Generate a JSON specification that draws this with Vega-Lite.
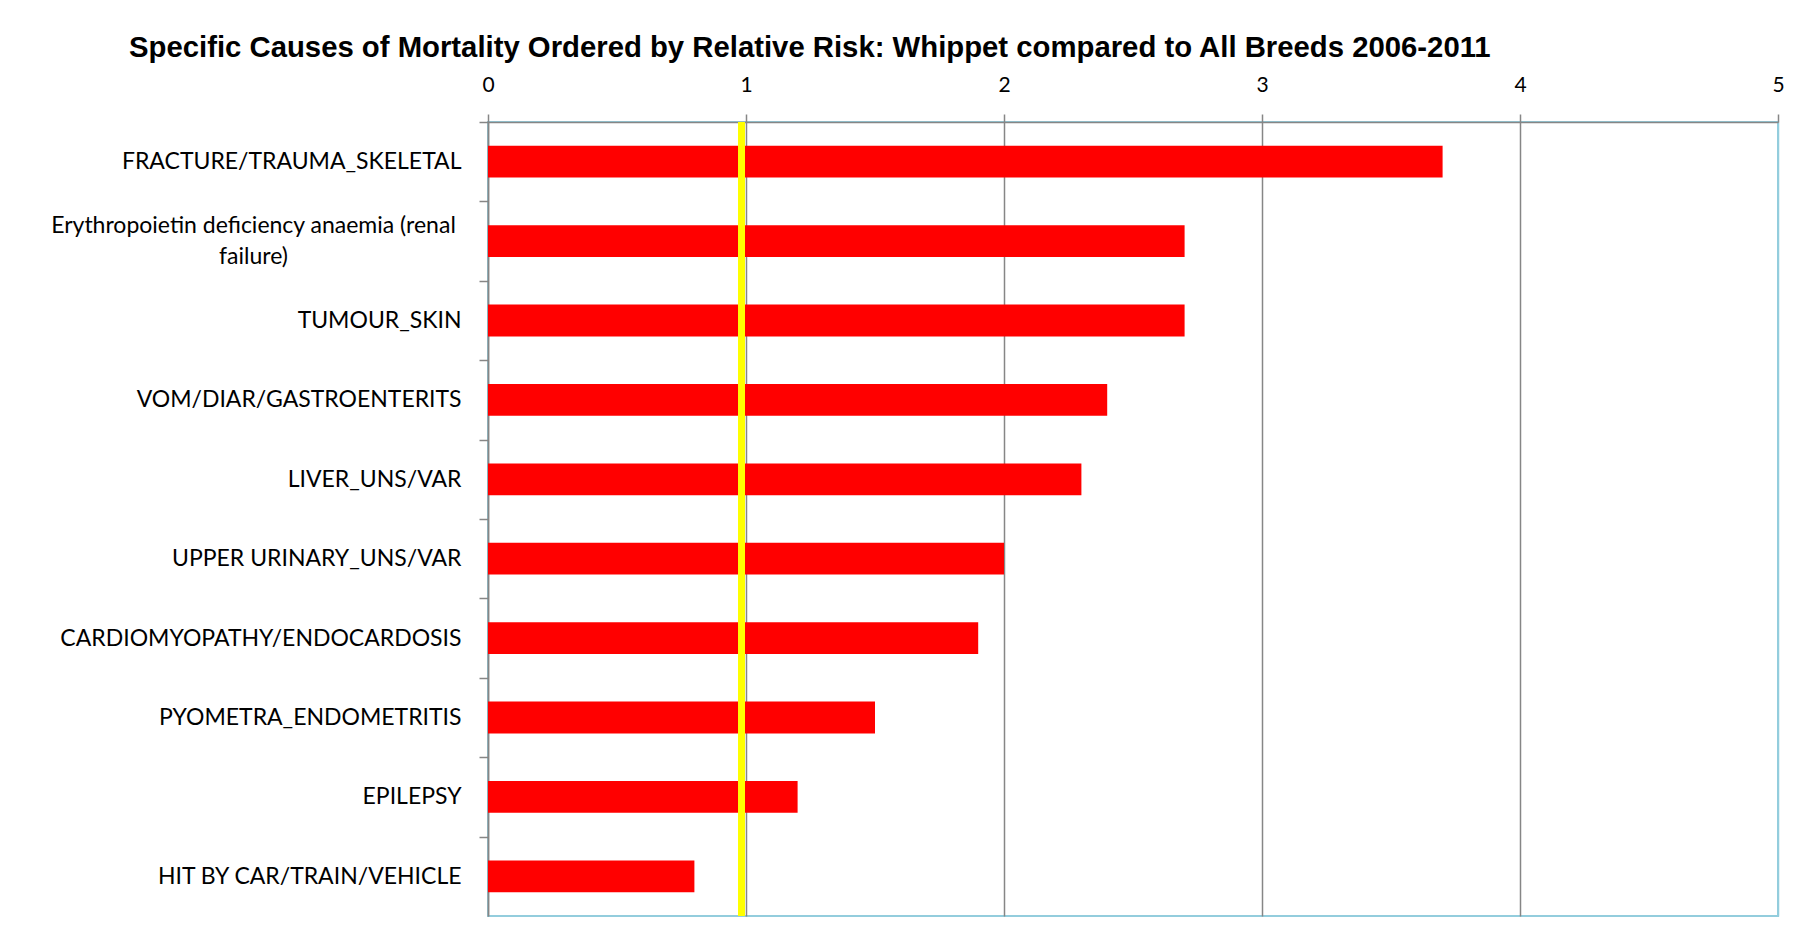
{
  "$schema": "https://vega.github.io/schema/vega-lite/v6.json",
  "autosize": {"type": "none"},
  "padding": {"left": 488, "top": 122, "right": 24, "bottom": 21},
  "width": 1290,
  "height": 794,
  "background": "white",
  "title": {
    "text": "Specific Causes of Mortality Ordered by Relative Risk: Whippet compared to All Breeds 2006-2011",
    "font": "Liberation Sans",
    "fontWeight": "bold",
    "fontSize": 29.3,
    "color": "#000000",
    "anchor": "start",
    "frame": "group",
    "dx": -359,
    "offset": 11
  },
  "data": {
    "values": [
      {"cause": "FRACTURE/TRAUMA_SKELETAL", "rr": 3.7},
      {"cause": "Erythropoietin deficiency anaemia (renal failure)", "rr": 2.7},
      {"cause": "TUMOUR_SKIN", "rr": 2.7},
      {"cause": "VOM/DIAR/GASTROENTERITS", "rr": 2.4},
      {"cause": "LIVER_UNS/VAR", "rr": 2.3},
      {"cause": "UPPER URINARY_UNS/VAR", "rr": 2.0},
      {"cause": "CARDIOMYOPATHY/ENDOCARDOSIS", "rr": 1.9},
      {"cause": "PYOMETRA_ENDOMETRITIS", "rr": 1.5},
      {"cause": "EPILEPSY", "rr": 1.2},
      {"cause": "HIT BY CAR/TRAIN/VEHICLE", "rr": 0.8}
    ]
  },
  "layer": [
    {
      "mark": {"type": "bar", "color": "#FF0000"},
      "encoding": {
        "y": {
          "field": "cause",
          "type": "nominal",
          "sort": null,
          "scale": {"paddingInner": 0.6, "paddingOuter": 0.3},
          "axis": {
            "title": null,
            "bandPosition": 0,
            "tickOffset": -23.8,
            "tickSize": 9,
            "tickColor": "#868686",
            "tickWidth": 1.5,
            "domainColor": "#868686",
            "domainWidth": 1.5,
            "labelFont": "Lato",
            "labelFontSize": 23,
            "labelColor": "#000000",
            "labelLimit": 600,
            "labelLineHeight": 31,
            "labelAlign": {"condition": {"test": "datum.value == 'Erythropoietin deficiency anaemia (renal failure)'", "value": "center"}, "value": "right"},
            "labelPadding": {"condition": {"test": "datum.value == 'Erythropoietin deficiency anaemia (renal failure)'", "value": 226}, "value": 18},
            "labelOffset": {"condition": {"test": "datum.value == 'Erythropoietin deficiency anaemia (renal failure)'", "value": 8.3}, "value": 23.8},
            "labelExpr": "datum.label == 'Erythropoietin deficiency anaemia (renal failure)' ? ['Erythropoietin deficiency anaemia (renal', 'failure)'] : datum.label"
          }
        },
        "x": {
          "field": "rr",
          "type": "quantitative",
          "scale": {"domain": [0, 5], "nice": false},
          "axis": {
            "orient": "top",
            "title": null,
            "values": [0, 1, 2, 3, 4, 5],
            "format": "d",
            "grid": true,
            "gridColor": {"condition": {"test": "datum.value == 5", "value": "#93CDDD"}, "value": "#868686"},
            "gridWidth": 1.5,
            "tickSize": 8,
            "tickColor": "#868686",
            "tickWidth": 1.5,
            "domainColor": "#868686",
            "domainWidth": 1.5,
            "labelFont": "Lato",
            "labelFontSize": 21,
            "labelColor": "#000000",
            "labelPadding": 19,
            "labelFlush": false
          }
        }
      }
    },
    {
      "mark": {"type": "rule", "color": "#FFFF00", "strokeWidth": 6},
      "encoding": {"x": {"datum": 0.983, "type": "quantitative"}}
    }
  ],
  "config": {
    "view": {"stroke": "#93CDDD", "strokeWidth": 2}
  }
}
